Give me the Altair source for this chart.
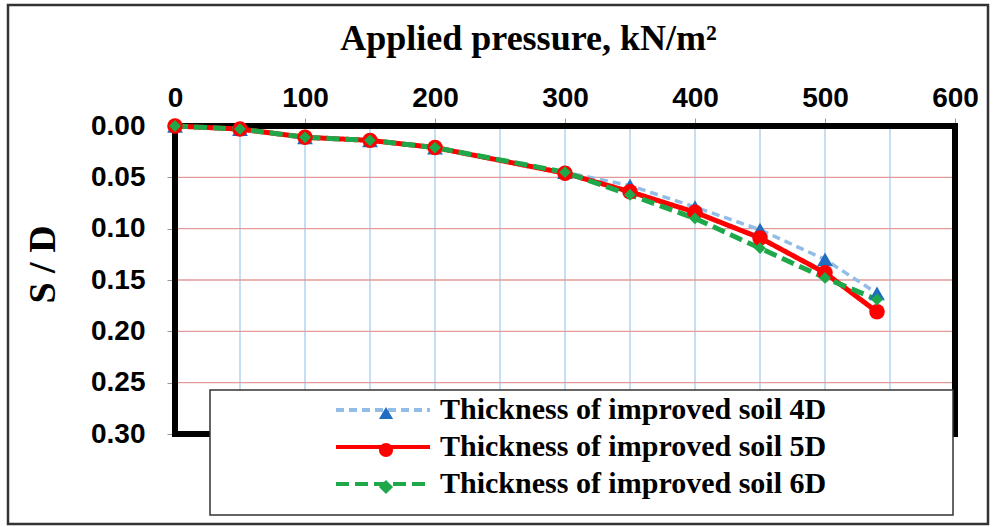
import altair as alt
import pandas as pd

# ---------------- data ----------------
pressure = [0, 50, 100, 150, 200, 300, 350, 400, 450, 500, 540]
sd_4d = [0.000, 0.003, 0.011, 0.014, 0.021, 0.045, 0.058, 0.079, 0.101, 0.130, 0.163]
sd_5d = [0.000, 0.003, 0.011, 0.014, 0.021, 0.046, 0.064, 0.084, 0.109, 0.143, 0.181]
sd_6d = [0.000, 0.003, 0.011, 0.014, 0.021, 0.045, 0.067, 0.090, 0.119, 0.148, 0.169]
series_names = [
    "Thickness of improved soil 4D",
    "Thickness of improved soil 5D",
    "Thickness of improved soil 6D",
]
x_ticks = [0, 100, 200, 300, 400, 500, 600]
y_ticks = [0.00, 0.05, 0.10, 0.15, 0.20, 0.25, 0.30]
x_grid = [50, 100, 150, 200, 250, 300, 350, 400, 450, 500, 550]
y_grid = [0.05, 0.10, 0.15, 0.20, 0.25]
x_frame = [0, 600]
y_frame = [0.0, 0.3]

rows = []
for name, vals in zip(series_names, [sd_4d, sd_5d, sd_6d]):
    for p, v in zip(pressure, vals):
        rows.append({"pressure": p, "sd": v, "series": name})
df = pd.DataFrame(rows)

# ---------------- styles ----------------
line_colors = ["#92bde6", "#ff0000", "#1ea84a"]
marker_colors = ["#1f6cc0", "#ff0000", "#1ea84a"]
dashes = [[8, 5], [1, 0], [13, 6]]
shapes = ["triangle-up", "circle", "diamond"]

xscale = alt.Scale(domain=[0, 600], nice=False, zero=False)
yscale = alt.Scale(domain=[0, 0.3], reverse=True, nice=False, zero=False)

xaxis = alt.Axis(
    orient="top", values=x_ticks, title="Applied pressure, kN/m²",
    grid=False, domain=False, ticks=True, tickSize=8, tickColor="#999999",
    labelFont="Liberation Sans", labelFontSize=28, labelFontWeight="bold",
    labelColor="black", labelPadding=6, labelFlush=False,
    titleFont="Liberation Serif", titleFontSize=36, titleFontWeight="bold",
    titleColor="black", titlePadding=27, titleX=353, titleAlign="center",
)
yaxis = alt.Axis(
    values=y_ticks, format=".2f", title="S / D",
    grid=False, domain=False, ticks=True, tickSize=8, tickColor="#999999",
    labelFont="Liberation Sans", labelFontSize=28, labelFontWeight="bold",
    labelColor="black", labelPadding=22, labelFlush=False,
    titleFont="Liberation Serif", titleFontSize=38, titleFontWeight="bold",
    titleColor="black", titlePadding=28, titleY=138, titleAlign="center",
)

X = lambda f: alt.X(f, scale=xscale, axis=xaxis)
Y = lambda f: alt.Y(f, scale=yscale, axis=yaxis)

vgrid = alt.Chart(pd.DataFrame({"pressure": x_grid})).mark_rule(
    color="#a8cdea", strokeWidth=1.3
).encode(x=X("pressure:Q"), y=alt.datum(0.0), y2=alt.datum(0.3))

hgrid = alt.Chart(pd.DataFrame({"sd": y_grid})).mark_rule(
    color="#e39a9a", strokeWidth=1.3
).encode(y=Y("sd:Q"), x=alt.datum(0), x2=alt.datum(600))

frame_h = alt.Chart(pd.DataFrame({"sd": y_frame})).mark_rule(
    color="black", strokeWidth=6, strokeCap="square"
).encode(y=Y("sd:Q"), x=alt.datum(0), x2=alt.datum(600))

frame_v = alt.Chart(pd.DataFrame({"pressure": x_frame})).mark_rule(
    color="black", strokeWidth=6, strokeCap="square"
).encode(x=X("pressure:Q"), y=alt.datum(0.0), y2=alt.datum(0.3))

legend_font = dict(
    labelFont="Liberation Serif", labelFontSize=30, labelFontWeight="bold",
    labelColor="black", labelLimit=0, title=None, orient="none",
    direction="vertical", padding=0, rowPadding=7,
)

line_legend = alt.Legend(
    legendX=193, legendY=269, symbolType="M-4.7,0H4.7", symbolSize=400,
    symbolStrokeWidth=4, labelOffset=42, zindex=1, **legend_font,
)
marker_legend = alt.Legend(
    legendX=196, legendY=272, symbolSize=200, symbolStrokeWidth=0,
    labelOffset=0, labelOpacity=0, labelExpr="' '", zindex=2, **legend_font,
)

lines = alt.Chart(df).mark_line().encode(
    x=X("pressure:Q"),
    y=Y("sd:Q"),
    stroke=alt.Stroke("series:N", scale=alt.Scale(range=line_colors), legend=line_legend),
    strokeDash=alt.StrokeDash("series:N", scale=alt.Scale(range=dashes), legend=line_legend),
    strokeWidth=alt.when(alt.datum.series == series_names[0]).then(alt.value(3.5)).otherwise(alt.value(5)),
)

points = alt.Chart(df).mark_point(filled=True, opacity=1).encode(
    x=X("pressure:Q"),
    y=Y("sd:Q"),
    shape=alt.Shape("series:N", scale=alt.Scale(domain=series_names, range=shapes), legend=marker_legend),
    fill=alt.Fill("series:N", scale=alt.Scale(domain=series_names, range=marker_colors), legend=marker_legend),
    size=alt.when(alt.datum.series == series_names[0]).then(alt.value(250))
    .when(alt.datum.series == series_names[1]).then(alt.value(240))
    .otherwise(alt.value(140)),
)

one = pd.DataFrame({"k": [0]})
legend_box = alt.Chart(one).mark_rect(fill="white", stroke="#333333", strokeWidth=1.5).encode(
    x=alt.value(35), x2=alt.value(778), y=alt.value(264), y2=alt.value(389)
)
outer = alt.Chart(one).mark_rect(fill=None, stroke="#333333", strokeWidth=2.5).encode(
    x=alt.value(-167), x2=alt.value(813), y=alt.value(-121), y2=alt.value(398)
)

chart = alt.layer(vgrid, hgrid, frame_h, frame_v, lines, points, legend_box, outer).properties(
    width=780, height=308,
    autosize=alt.AutoSizeParams(type="none"),
    padding={"left": 175, "top": 126, "right": 38, "bottom": 93},
    background="white",
).configure_view(stroke=None)

chart.save("out.html", embed_options={"renderer": "svg", "actions": False})
